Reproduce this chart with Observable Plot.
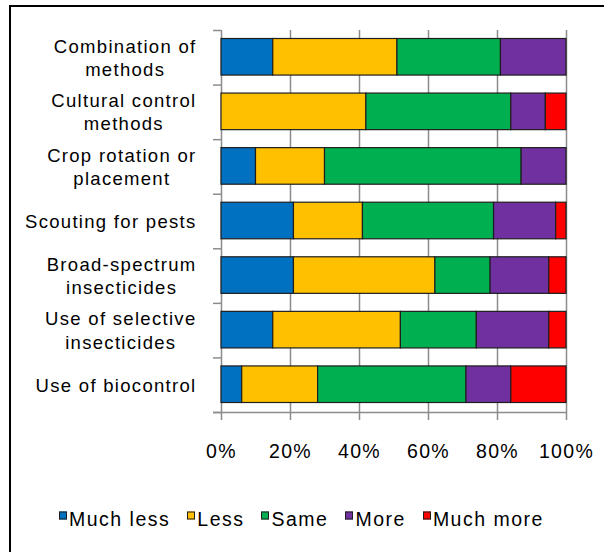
<!DOCTYPE html>
<html><head><meta charset="utf-8">
<script src="https://cdn.jsdelivr.net/npm/d3@7"></script>
<script src="https://cdn.jsdelivr.net/npm/@observablehq/plot@0.6"></script>
<style>
html,body{margin:0;padding:0;background:#fff;}
#wrap{position:relative;width:604px;height:552px;overflow:hidden;font-family:"Liberation Sans",Arial,sans-serif;}
#frame{position:absolute;left:9px;top:5px;width:600px;height:560px;border-top:2px solid #000;border-left:2px solid #000;box-sizing:border-box;}
#chart{position:absolute;left:0;top:0;}
#chart svg text{letter-spacing:1.3px;}
#legend{position:absolute;left:59px;top:509px;display:flex;align-items:center;font-size:19.5px;letter-spacing:1.5px;line-height:20px;color:#000;white-space:nowrap;}
#legend .item{display:flex;align-items:center;margin-right:17px;}
#legend .sw{width:6px;height:6px;border:1px solid #1e1e1e;margin-right:2px;transform:translateY(-3.5px);}
</style>
</head><body>
<div id="wrap"><div id="frame"></div><div id="chart"></div><div id="legend"></div></div>
<script>
const categories = ["Combination of\nmethods", "Cultural control\nmethods", "Crop rotation or\nplacement", "Scouting for pests", "Broad-spectrum\ninsecticides", "Use of selective\ninsecticides", "Use of biocontrol"];
const responses = ["Much less", "Less", "Same", "More", "Much more"];
const muchLess = [15, 0, 10, 21, 21, 15, 6];
const less = [36, 42, 20, 20, 41, 37, 22];
const same = [30, 42, 57, 38, 16, 22, 43];
const more = [19, 10, 13, 18, 17, 21, 13];
const muchMore = [0, 6, 0, 3, 5, 5, 16];
const colors = ["#0070C0", "#FFC000", "#00B050", "#7030A0", "#FF0000"];
const xTicks = [0, 20, 40, 60, 80, 100];

const series = [muchLess, less, same, more, muchMore];
const rows = d3.range(categories.length);
const table = [];
rows.forEach(i => {
  let acc = 0;
  series.forEach((arr, k) => {
    const v = arr[i];
    if (v > 0) table.push({row: i, resp: responses[k], x1: acc, x2: acc + v});
    acc += v;
  });
});
const n = categories.length;
const grid = "#8c8c8c";

const svg = Plot.plot({
  width: 604, height: 470,
  marginTop: 30, marginBottom: 58, marginLeft: 221, marginRight: 38,
  x: {domain: [0, 100], axis: null},
  y: {domain: [0, n], reverse: true, axis: null},
  color: {domain: responses, range: colors},
  style: {fontFamily: "'Liberation Sans', Arial, sans-serif", background: "transparent", color: "#000"},
  marks: [
    Plot.ruleX(xTicks, {x: d => d, y1: 0, y2: n, insetBottom: -8, stroke: grid, strokeWidth: 1.5}),
    Plot.ruleY(d3.range(n + 1), {y: d => d, x1: 0, x2: 0, insetLeft: -8, stroke: grid, strokeWidth: 1.5}),
    Plot.ruleY([n], {y: d => d, x1: 0, x2: 100, insetLeft: -8, stroke: grid, strokeWidth: 1.5}),
    Plot.rect(table, {x1: "x1", x2: "x2", y1: "row", y2: d => d.row + 1, insetTop: 8.5, insetBottom: 9.5,
      fill: "resp", stroke: "#1e1e1e", strokeWidth: 1.2}),
    Plot.text(rows, {x: 0, y: i => i + 0.5, text: i => categories[i], textAnchor: "end", dx: -25, dy: -1,
      lineHeight: 1.26, fontSize: 18.5, fill: "#000"}),
    Plot.text(xTicks, {x: d => d, y: n, text: d => d + "%", dy: 39, fontSize: 19.5, fill: "#000"})
  ]
});
document.getElementById("chart").appendChild(svg);

// center wrapped lines within each right-aligned label block
const labelGroup = svg.querySelectorAll('g[aria-label="text"]')[0];
labelGroup.querySelectorAll("text").forEach(t => {
  const spans = t.querySelectorAll("tspan");
  const parts = spans.length ? [...spans] : [t];
  const w = Math.max(...parts.map(p => p.getComputedTextLength()));
  t.setAttribute("text-anchor", "middle");
  const tr = t.getAttribute("transform") || "";
  t.setAttribute("transform", tr + ` translate(${-w / 2},0)`);
});

const legend = document.getElementById("legend");
responses.forEach((r, k) => {
  const item = document.createElement("div");
  item.className = "item";
  const sw = document.createElement("div");
  sw.className = "sw";
  sw.style.background = colors[k];
  const lab = document.createElement("span");
  lab.textContent = r;
  item.appendChild(sw); item.appendChild(lab);
  legend.appendChild(item);
});
</script>
</body></html>
